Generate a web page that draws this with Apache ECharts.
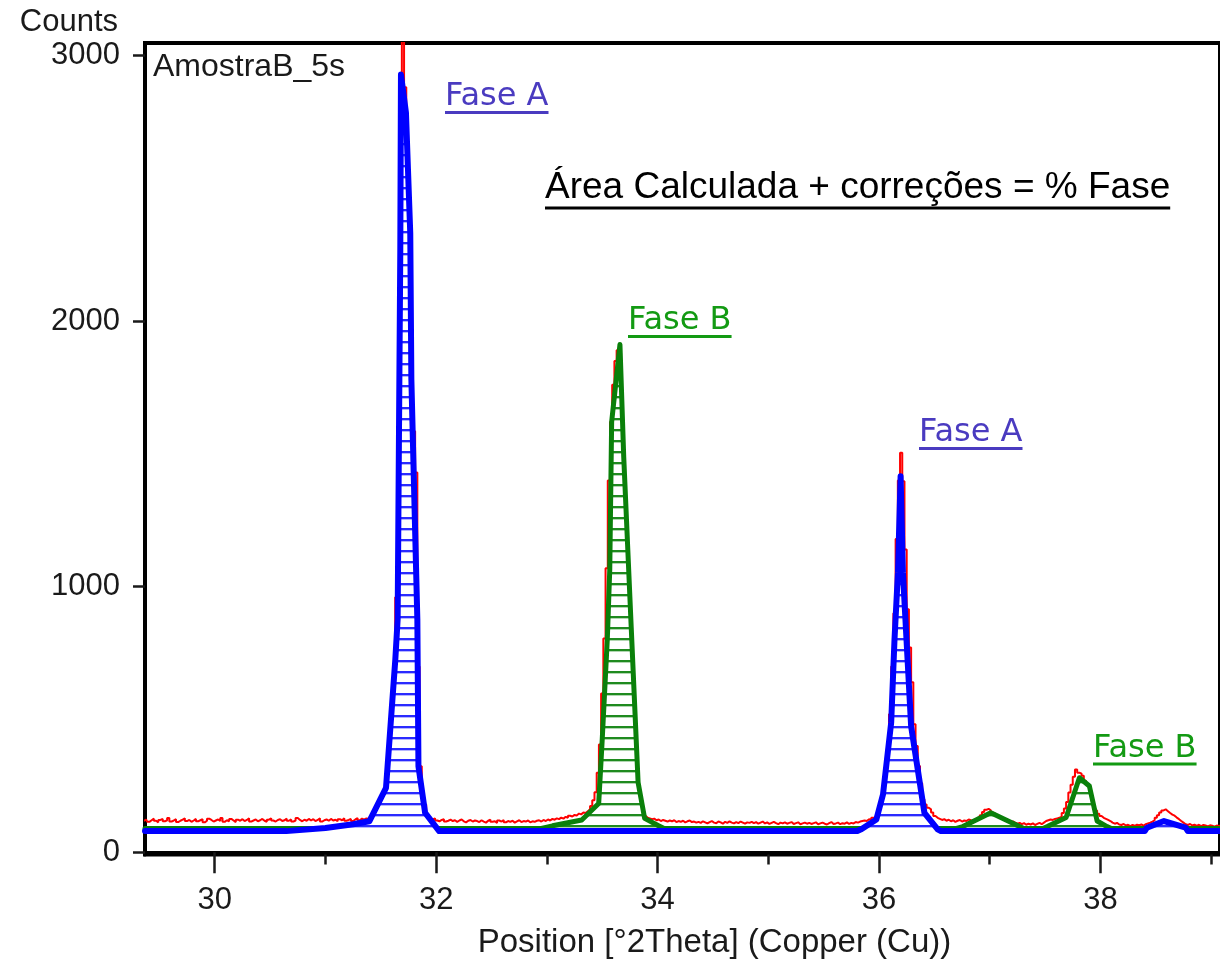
<!DOCTYPE html>
<html>
<head>
<meta charset="utf-8">
<script src="https://cdn.jsdelivr.net/npm/echarts@6/dist/echarts.min.js"></script>
<style>
html,body{margin:0;padding:0;background:#fff;}
#chart{width:1220px;height:964px;}
</style>
</head>
<body>
<div id="chart"></div>
<script>
// ---------- DATA ----------
const rawStart = 29.36;
const rawStep = 0.02;
const rawCounts = [
  118,124,115,121,127,119,113,122,126,117,121,129,116,120,125,114,119,123,128,118,122,115,120,126,117,
  121,125,113,119,127,122,116,120,124,118,129,115,121,117,126,120,114,123,119,125,118,122,128,116,120,
  124,117,121,126,119,115,123,128,120,116,122,125,118,121,127,119,124,116,120,129,122,117,123,119,126,
  120,125,118,122,128,116,121,124,119,126,120,123,117,125,121,128,119,122,126,118,124,129,121,127,123,
  128,122,130,126,134,138,148,160,178,205,255,340,480,700,960,1355,1995,3400,2880,2500,2100,1780,1585,1430,700,
  324,226,180,140,132,124,128,120,117,122,125,116,119,123,118,121,115,120,124,117,113,119,122,116,120,
  118,114,121,116,112,119,123,115,117,111,120,116,122,113,118,115,119,112,117,121,114,118,116,120,113,
  117,115,119,121,116,122,118,124,120,126,123,128,125,131,127,134,130,138,135,141,139,146,143,150,148,
  155,162,175,196,226,300,406,598,805,1070,1400,1620,1760,1850,1890,1880,1500,1200,980,800,560,380,250,175,145,
  140,138,131,128,125,127,121,124,118,122,119,116,120,117,121,114,118,115,119,113,117,120,114,116,112,
  115,111,117,113,109,114,118,112,110,116,113,108,115,111,117,112,109,114,110,116,112,108,113,111,115,
  110,114,108,112,116,109,113,107,111,115,110,106,112,109,113,108,111,114,107,110,113,106,109,112,108,
  111,107,110,113,106,109,112,108,105,110,114,107,109,112,106,110,108,113,107,111,109,114,112,116,118,
  120,118,125,122,130,128,137,150,175,215,285,390,520,700,900,1180,1400,1504,1397,1140,915,771,640,482,400,
  325,260,200,180,168,162,150,137,130,126,122,125,119,123,117,121,115,119,122,116,120,118,124,121,115,
  118,122,130,140,152,160,164,158,150,146,140,132,126,121,116,119,113,117,112,108,111,106,110,104,108,
  105,109,103,107,111,106,112,118,121,124,122,126,128,130,135,148,165,190,225,255,285,312,300,296,288,
  270,250,232,200,174,158,145,137,130,126,122,118,112,108,111,105,103,107,101,104,99,103,100,104,102,
  105,101,106,109,112,116,121,130,140,150,158,162,155,148,142,138,131,125,118,112,106,103,107,101,104,
  100,104,99,103,101,98,102,100,97,101,99,102
];

// Fitted profile, Fase A (blue)
const faseATheta  = [29.37,30.646,31.0,31.25,31.396,31.547,31.631,31.652,31.676,31.682,31.727,31.766,31.776,31.83,31.84,31.90,32.027,35.80,35.84,35.976,36.036,36.11,36.14,36.171,36.195,36.216,36.29,36.41,36.53,36.56,38.40,38.42,38.574,38.77,38.79,39.08];
const faseACounts = [80,80,92,106,117,243,726,877,2270,2928,2785,2330,1780,877,324,149,80,80,87,124,218,489,802,1054,1416,1054,475,149,87,80,80,93,118,93,80,80];

// Fitted profile, Fase B (green)
const faseBTheta  = [29.37,32.95,33.051,33.315,33.468,33.499,33.546,33.568,33.585,33.66,33.694,33.762,33.824,33.883,34.009,34.06,36.70,36.757,37.01,37.27,37.31,37.48,37.52,37.69,37.81,37.90,37.97,38.06,38.10,39.08];
const faseBCounts = [90,90,100,122,184,418,805,1065,1620,1912,1490,845,263,128,100,90,90,97,149,97,90,90,97,131,281,250,118,97,90,90];

const faseABaseline = 80;
const faseBBaseline = 90;

const yTicks = [0,1000,2000,3000];
const xMajorTicks = [30,32,34,36,38];
const xMinorTicks = [31,33,35,37,39];

const sampleName = 'AmostraB_5s';
const yAxisName = 'Counts';
const xAxisName = 'Position [°2Theta] (Copper (Cu))';
const labelFaseA = 'Fase A';
const labelFaseB = 'Fase B';
const labelFormula = 'Área Calculada + correções = % Fase';

// ---------- BUILD ----------
const rawData = rawCounts.map((c, i) => [+(rawStart + i * rawStep).toFixed(2), c]);
const faseAData = faseATheta.map((t, i) => [t, faseACounts[i]]);
const faseBData = faseBTheta.map((t, i) => [t, faseBCounts[i]]);

function hatch(color) {
  const c = document.createElement('canvas');
  c.width = 8; c.height = 11;
  const g = c.getContext('2d');
  g.fillStyle = '#ffffff';
  g.fillRect(0, 0, 8, 11);
  g.fillStyle = color;
  g.fillRect(0, 0, 8, 2);
  g.globalAlpha = 0.35;
  g.fillRect(0, 2, 8, 1);
  return c;
}

function textWidth(txt, font) {
  const c = document.createElement('canvas').getContext('2d');
  c.font = font;
  return c.measureText(txt).width;
}

function underlined(txt, x, yMid, font, color, ulY, ulH) {
  const w = textWidth(txt, font);
  return [
    { type: 'text', x: x, y: yMid, z: 100,
      style: { text: txt, font: font, fill: color, align: 'left', verticalAlign: 'middle' } },
    { type: 'rect', z: 100, shape: { x: x, y: ulY, width: w, height: ulH },
      style: { fill: color } }
  ];
}

const fontFase = '32px "DejaVu Sans"';
const fontFormula = '37px "Liberation Sans"';
const colA = '#4a3bc0';
const colB = '#139a13';

const chart = echarts.init(document.getElementById('chart'), null, { renderer: 'canvas' });

const axisFont = { fontFamily: 'Liberation Sans', fontSize: 31, color: '#1a1a1a' };
const plain = v => String(v);

chart.setOption({
  animation: false,
  backgroundColor: '#ffffff',
  grid: { left: 145, right: -3, top: 43, bottom: 109, show: true,
          borderColor: '#000', borderWidth: 4, backgroundColor: 'transparent' },
  xAxis: [
    { type: 'value', min: 29.37, max: 39.08, position: 'bottom',
      axisLine: { show: true, lineStyle: { color: '#000', width: 4 } },
      axisTick: { show: true, customValues: xMajorTicks, length: 21, inside: false,
                  lineStyle: { color: '#1a1a1a', width: 2.5 } },
      axisLabel: Object.assign({ customValues: xMajorTicks, margin: 30, formatter: plain }, axisFont),
      splitLine: { show: false },
      name: xAxisName, nameLocation: 'middle', nameGap: 88,
      nameTextStyle: { fontFamily: 'Liberation Sans', fontSize: 33, color: '#1a1a1a',
                       verticalAlign: 'middle', padding: [0, 0, 0, 64] } },
    { type: 'value', min: 29.37, max: 39.08, position: 'bottom',
      axisLine: { show: false },
      axisTick: { show: true, customValues: xMinorTicks, length: 10,
                  lineStyle: { color: '#1a1a1a', width: 2.5 } },
      axisLabel: { show: false },
      splitLine: { show: false } }
  ],
  yAxis: {
    type: 'value', min: -8, max: 3047,
    axisLine: { show: true, lineStyle: { color: '#000', width: 4 } },
    axisTick: { show: true, customValues: yTicks, length: 12, lineStyle: { color: '#1a1a1a', width: 2.5 } },
    axisLabel: Object.assign({ customValues: yTicks, margin: 25, formatter: plain }, axisFont),
    splitLine: { show: false },
    name: yAxisName, nameLocation: 'end', nameGap: 21,
    nameTextStyle: { fontFamily: 'Liberation Sans', fontSize: 31, color: '#1a1a1a',
                     align: 'right', verticalAlign: 'middle', padding: [0, 27, 0, 0] }
  },
  series: [
    { name: 'Medido', type: 'line', data: rawData, step: 'middle', showSymbol: false,
      symbol: 'none', clip: true, z: 2,
      lineStyle: { color: '#ff0000', width: 2 } },
    { name: 'Fase B', type: 'line', data: faseBData, showSymbol: false, symbol: 'none', clip: true, z: 3,
      lineStyle: { color: '#0a800a', width: 5, join: 'round', cap: 'round' },
      areaStyle: { origin: faseBBaseline, opacity: 1, color: { image: hatch('#1f8a1f'), repeat: 'repeat' } } },
    { name: 'Fase A', type: 'line', data: faseAData, showSymbol: false, symbol: 'none', clip: true, z: 4,
      lineStyle: { color: '#0000ff', width: 6, join: 'round', cap: 'round' },
      areaStyle: { origin: faseABaseline, opacity: 1, color: { image: hatch('#2a2aff'), repeat: 'repeat' } } }
  ],
  graphic: [
    { type: 'text', x: 153, y: 67, z: 100,
      style: { text: sampleName, font: '32px "Liberation Sans"', fill: '#1a1a1a', align: 'left', verticalAlign: 'middle' } },
    ...underlined(labelFaseA, 445, 97, fontFase, colA, 111, 3),
    ...underlined(labelFormula, 545, 188, fontFormula, '#000', 206.5, 3),
    ...underlined(labelFaseB, 628, 321, fontFase, colB, 335, 3),
    ...underlined(labelFaseA, 919, 433, fontFase, colA, 447, 3),
    ...underlined(labelFaseB, 1093, 749, fontFase, colB, 762.5, 3)
  ]
});
</script>
</body>
</html>
